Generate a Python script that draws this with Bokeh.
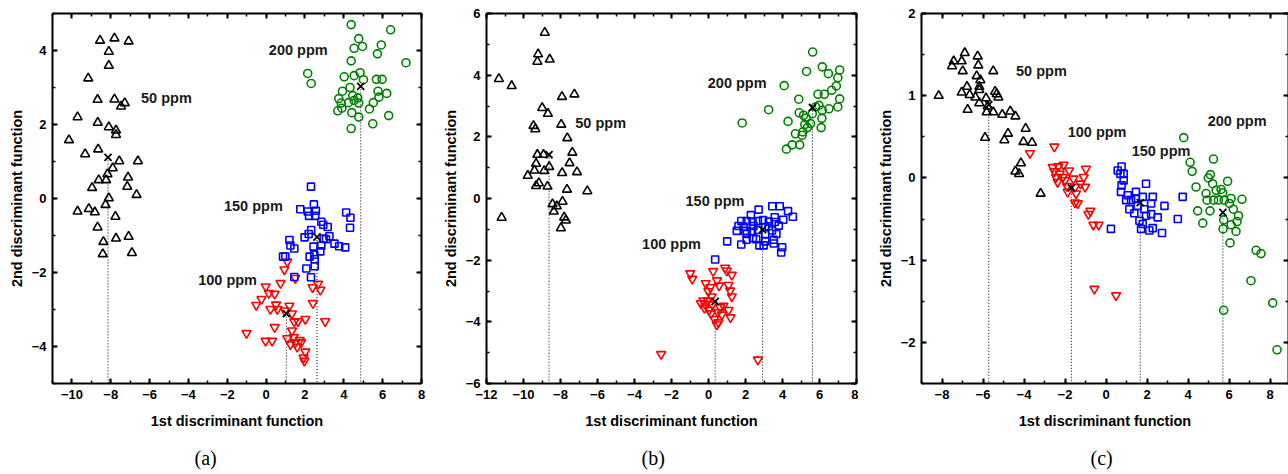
from bokeh.plotting import figure
from bokeh.layouts import row
from bokeh.models import LinearAxis, SingleIntervalTicker, Title, Range1d
from bokeh.core.properties import value
from bokeh.embed import file_html
from bokeh.resources import INLINE

SANS = "Liberation Sans"
SERIF = "Liberation Serif"

GROUPS = ["50 ppm", "100 ppm", "150 ppm", "200 ppm"]
MARKERS = ["triangle", "inverted_triangle", "square", "circle"]
COLORS = ["black", "#ff0000", "#0000ff", "#008000"]
SIZES = [9, 9, 7, 8]

# ---------------- panel (a) ----------------
a50_x = [-8.55, -7.81, -7.08, -8.10, -8.10, -9.16, -8.68, -7.81, -7.28, -7.47, -9.71, -8.67, -8.10, -7.73,
         -7.73, -10.15, -9.32, -8.65, -7.56, -6.60, -7.90, -8.17, -8.62, -8.24, -7.11, -7.15, -8.96, -6.67,
         -8.10, -8.27, -9.71, -9.13, -8.82, -7.76, -8.68, -8.38, -7.73, -7.08, -8.41, -6.91]
a50_y = [4.27, 4.33, 4.25, 3.97, 3.59, 3.25, 2.67, 2.68, 2.58, 2.49, 2.20, 2.05, 1.93, 1.84, 1.72, 1.58,
         1.20, 1.33, 1.01, 1.01, 0.82, 0.66, 0.50, 0.50, 0.57, 0.32, 0.29, 0.10, 0.01, -0.17, -0.35, -0.28,
         -0.37, -0.49, -0.78, -1.17, -1.08, -1.03, -1.50, -1.47]
a100_x = [1.09, 0.94, 0.74, -0.02, 0.14, 0.44, -0.24, -0.51, 0.51, 0.22, 0.58, 1.20, 0.96, 1.33, 1.45, 1.64,
          2.02, 3.04, 2.67, 2.39, 2.79, 2.41, 1.50, 0.44, -1.01, -0.03, 0.31, 1.09, 1.33, 1.42, 1.50, 1.73,
          1.80, 1.60, 2.02, 1.93, 1.97, 1.25]
a100_y = [-1.71, -1.92, -2.29, -2.38, -2.56, -2.58, -2.72, -2.88, -2.87, -2.99, -2.99, -2.90, -3.03, -3.11,
          -3.33, -3.32, -3.26, -3.32, -2.31, -2.40, -2.47, -2.83, -2.15, -3.48, -3.64, -3.85, -3.85, -3.78,
          -3.57, -3.75, -3.89, -3.83, -3.89, -4.01, -4.14, -4.30, -4.39, -3.94]
a150_x = [2.31, 2.46, 1.76, 2.14, 2.56, 2.21, 2.53, 4.12, 4.34, 4.32, 2.84, 3.17, 2.94, 2.32, 2.19, 1.98,
          3.26, 2.96, 3.08, 3.52, 3.76, 4.07, 1.20, 1.25, 1.45, 2.44, 2.84, 2.79, 2.24, 2.48, 2.50, 0.87,
          0.99, 2.07, 2.50, 1.45, 2.31]
a150_y = [0.32, -0.16, -0.29, -0.35, -0.33, -0.47, -0.47, -0.38, -0.52, -0.79, -0.63, -0.77, -0.71, -0.85,
          -0.96, -1.05, -1.02, -1.08, -1.10, -1.22, -1.29, -1.32, -1.12, -1.27, -1.35, -1.30, -1.27, -1.43,
          -1.57, -1.52, -1.64, -1.57, -1.57, -1.89, -1.83, -2.12, -2.13]
a200_x = [4.38, 6.41, 4.77, 4.53, 4.96, 5.93, 5.73, 7.20, 4.38, 2.14, 2.32, 4.02, 4.53, 4.84, 5.01, 5.68,
          5.97, 4.32, 3.93, 5.76, 6.21, 3.74, 4.46, 4.72, 3.86, 4.24, 4.53, 4.77, 3.69, 3.90, 5.52, 5.32,
          5.81, 4.41, 4.77, 6.31, 5.49, 4.38]
a200_y = [4.70, 4.56, 4.32, 4.06, 4.11, 4.15, 3.91, 3.67, 3.72, 3.38, 3.11, 3.29, 3.32, 3.40, 3.21, 3.22,
          3.22, 3.00, 2.90, 2.90, 2.84, 2.70, 2.78, 2.72, 2.58, 2.59, 2.65, 2.58, 2.37, 2.44, 2.59, 2.42,
          2.74, 2.32, 2.20, 2.24, 2.02, 1.89]
a_cent_x = [-8.14, 1.04, 2.62, 4.87]
a_cent_y = [1.11, -3.11, -1.04, 3.03]
a_lab_x = [-6.44, -3.50, -2.17, 0.14]
a_lab_y = [2.72, -2.20, -0.19, 4.02]

# ---------------- panel (b) ----------------
b50_x = [-8.85, -9.21, -9.25, -8.58, -11.33, -10.64, -7.92, -7.25, -8.99, -8.68, -9.46, -9.36, -7.96, -7.63,
         -9.25, -8.92, -7.36, -9.32, -8.61, -7.51, -9.77, -9.41, -8.88, -7.91, -7.11, -9.17, -9.32, -8.70,
         -7.65, -6.55, -8.43, -8.20, -7.89, -8.36, -7.80, -7.71, -7.98, -11.18]
b50_y = [5.38, 4.68, 4.44, 4.51, 3.88, 3.65, 3.30, 3.38, 2.94, 2.75, 2.36, 2.25, 2.40, 1.96, 1.42, 1.42,
         1.49, 1.13, 1.03, 1.15, 0.74, 0.91, 0.90, 0.83, 0.86, 0.50, 0.41, 0.39, 0.29, 0.24, -0.18, -0.25,
         -0.10, -0.42, -0.61, -0.71, -0.96, -0.62]
b100_x = [-0.99, -0.88, 0.25, 0.90, 0.99, 1.26, -0.15, 0.46, 0.57, 0.10, 1.08, -0.01, 1.17, 1.26, 0.17,
          -0.41, -0.19, -0.22, 0.03, 0.63, 1.08, 0.14, 0.50, 0.81, 1.19, 0.32, 0.54, 0.45, -2.56, 2.67,
          -0.28, 0.72, 0.21, -0.04]
b100_y = [-2.43, -2.61, -2.36, -2.25, -2.34, -2.48, -2.75, -2.66, -2.83, -2.88, -2.81, -3.01, -2.99, -3.18,
          -3.18, -3.40, -3.42, -3.55, -3.62, -3.53, -3.62, -3.73, -3.69, -3.48, -3.86, -3.91, -4.02, -4.09,
          -5.05, -5.23, -3.31, -3.77, -3.44, -3.31]
b150_x = [0.36, 2.71, 3.45, 3.85, 4.30, 4.56, 2.29, 1.77, 2.07, 2.38, 2.67, 2.95, 3.26, 3.58, 3.58, 4.04,
          1.62, 1.89, 2.43, 3.26, 3.80, 1.53, 1.98, 2.35, 2.67, 3.07, 3.43, 3.67, 2.07, 2.06, 2.40, 2.58,
          3.07, 3.53, 1.01, 1.77, 2.75, 2.98, 3.53, 3.98, 3.93, 3.07]
b150_y = [-1.98, -0.36, -0.25, -0.25, -0.41, -0.59, -0.54, -0.73, -0.73, -0.75, -0.73, -0.70, -0.75, -0.61,
          -0.76, -0.69, -0.89, -0.91, -0.89, -0.90, -0.88, -1.05, -1.05, -1.07, -1.02, -0.93, -1.04, -1.15,
          -1.15, -1.34, -1.28, -1.32, -1.39, -1.34, -1.39, -1.49, -1.52, -1.52, -1.46, -1.58, -1.75, -1.15]
b200_x = [5.63, 6.15, 5.30, 6.48, 7.09, 6.99, 4.09, 6.91, 6.66, 5.92, 6.26, 4.88, 7.09, 6.99, 3.25, 4.90,
          5.14, 5.79, 5.97, 6.15, 6.51, 5.61, 5.28, 1.82, 4.30, 5.21, 5.52, 6.13, 6.09, 5.35, 5.10, 5.06,
          4.70, 4.52, 4.93, 4.21]
b200_y = [4.75, 4.27, 4.12, 4.05, 4.17, 3.92, 3.66, 3.65, 3.51, 3.38, 3.38, 3.22, 3.23, 2.97, 2.88, 2.78,
          2.70, 2.97, 3.02, 2.86, 2.91, 2.75, 2.61, 2.45, 2.50, 2.40, 2.43, 2.60, 2.30, 2.30, 2.16, 2.05,
          2.10, 1.74, 1.74, 1.60]
b_cent_x = [-8.62, 0.36, 2.92, 5.62]
b_cent_y = [1.42, -3.34, -1.01, 2.95]
b_lab_x = [-7.20, -3.59, -1.24, -0.04]
b_lab_y = [2.46, -1.47, -0.09, 3.76]

# ---------------- panel (c) ----------------
c50_x = [-6.89, -6.26, -7.43, -7.04, -7.51, -6.23, -6.99, -5.50, -6.31, -6.13, -6.78, -6.18, -6.18, -7.04,
         -5.41, -8.16, -6.65, -6.37, -5.85, -5.25, -6.18, -6.75, -5.77, -5.82, -5.50, -5.06, -4.67, -4.42,
         -5.90, -3.92, -4.78, -4.96, -4.03, -3.61, -4.15, -4.42, -4.24, -3.19, -5.33]
c50_y = [1.52, 1.48, 1.42, 1.42, 1.36, 1.37, 1.30, 1.30, 1.24, 1.19, 1.11, 1.11, 1.07, 1.04, 1.05, 1.00,
         1.01, 0.98, 0.97, 0.98, 0.91, 0.83, 0.87, 0.80, 0.80, 0.77, 0.81, 0.75, 0.49, 0.60, 0.54, 0.46,
         0.44, 0.43, 0.18, 0.08, 0.05, -0.19, 1.02]
c100_x = [-2.52, -3.71, -2.60, -2.33, -2.07, -1.80, -0.98, -2.52, -2.26, -2.44, -2.11, -1.59, -1.09, -2.36,
          -1.90, -1.51, -1.25, -1.02, -1.46, -1.38, -1.51, -0.76, -0.86, -0.62, -0.36, -0.57, 0.49, -1.87,
          -2.00]
c100_y = [0.38, 0.30, 0.13, 0.14, 0.16, 0.09, 0.11, 0.08, 0.05, 0.01, 0.01, -0.01, 0.01, -0.05, -0.10,
          -0.11, -0.07, -0.11, -0.19, -0.31, -0.30, -0.40, -0.44, -0.57, -0.57, -1.35, -1.43, -0.17, -0.03]
c150_x = [0.76, 0.57, 0.70, 0.86, 0.86, 0.76, 0.73, 1.06, 1.46, 0.98, 1.22, 1.46, 1.79, 1.95, 2.28, 2.20,
          1.14, 1.38, 1.87, 1.95, 2.20, 2.52, 2.85, 3.74, 3.50, 1.63, 1.79, 1.71, 2.11, 2.28, 2.73, 0.24,
          1.54]
c150_y = [0.14, 0.09, 0.05, 0.05, -0.03, -0.09, -0.17, -0.21, -0.17, -0.27, -0.27, -0.25, -0.23, -0.07,
          -0.23, -0.31, -0.38, -0.43, -0.38, -0.46, -0.44, -0.48, -0.34, -0.23, -0.50, -0.52, -0.56, -0.62,
          -0.64, -0.61, -0.67, -0.62, -0.34]
c200_x = [3.79, 4.10, 4.20, 5.24, 4.39, 5.09, 4.99, 5.20, 5.93, 5.37, 5.61, 4.88, 4.93, 5.25, 5.48, 5.69,
          5.77, 6.10, 6.02, 6.63, 4.47, 5.07, 5.74, 6.21, 6.46, 6.39, 4.72, 6.10, 5.71, 6.34, 6.05, 7.32,
          7.56, 7.07, 5.74, 8.13, 8.34]
c200_y = [0.49, 0.19, 0.08, 0.23, -0.11, 0.04, 0.00, -0.07, -0.04, -0.15, -0.14, -0.19, -0.27, -0.27,
          -0.27, -0.18, -0.27, -0.25, -0.31, -0.26, -0.40, -0.40, -0.51, -0.38, -0.46, -0.53, -0.55, -0.57,
          -0.62, -0.65, -0.79, -0.88, -0.92, -1.25, -1.61, -1.52, -2.09]
c_cent_x = [-5.72, -1.69, 1.67, 5.70]
c_cent_y = [0.89, -0.12, -0.30, -0.42]
c_lab_x = [-4.39, -1.87, 1.25, 4.96]
c_lab_y = [1.30, 0.56, 0.33, 0.69]

X_TITLE = "1st discriminant function"
Y_TITLE = "2nd discriminant function"


def style_axis(ax, step, show_labels=True):
    ax.ticker = SingleIntervalTicker(interval=step, num_minor_ticks=2)
    ax.axis_line_width = 2
    ax.axis_line_color = "black"
    ax.major_tick_in = 5
    ax.major_tick_out = 0
    ax.minor_tick_in = 3
    ax.minor_tick_out = 0
    ax.major_tick_line_width = 2
    ax.minor_tick_line_width = 1.5
    ax.major_label_text_font = SANS
    ax.major_label_text_font_style = "bold"
    if show_labels:
        ax.major_label_text_color = "black"
        ax.major_label_text_font_size = "13px"
        ax.major_label_standoff = 6
    else:
        # mirrored frame axes: ticks only, no numbers
        ax.major_label_text_color = None
        ax.major_label_text_font_size = "0px"
        ax.major_label_standoff = 0


def make_panel(xr, yr, xstep, ystep, series, cx, cy, lx, ly, letter,
               border_left, frame_w, border_right, letter_offset):
    p = figure(x_range=Range1d(*xr), y_range=Range1d(*yr),
               frame_width=frame_w, frame_height=370,
               min_border_left=border_left, min_border_right=border_right,
               min_border_top=13, min_border_bottom=91,
               output_backend="svg", toolbar_location=None, title=None,
               background_fill_color="white", border_fill_color="white",
               outline_line_color=None)
    p.xgrid.visible = False
    p.ygrid.visible = False

    xa, ya = p.xaxis[0], p.yaxis[0]
    style_axis(xa, xstep)
    style_axis(ya, ystep)
    for ax in (xa, ya):
        ax.axis_label_text_font = SANS
        ax.axis_label_text_font_style = "bold"
        ax.axis_label_text_font_size = "14.5px"
        ax.axis_label_text_color = "black"
    xa.axis_label = X_TITLE
    ya.axis_label = Y_TITLE
    xa.axis_label_standoff = 11
    ya.axis_label_standoff = 4

    top = LinearAxis()
    style_axis(top, xstep, show_labels=False)
    p.add_layout(top, "above")
    right = LinearAxis()
    style_axis(right, ystep, show_labels=False)
    p.add_layout(right, "right")

    # dotted drop lines from each group centroid to the bottom of the frame
    p.segment(x0=cx, y0=cy, x1=cx, y1=[yr[0]] * len(cx),
              line_color="black", line_width=1, line_dash="1 2")

    for (xs, ys), marker, color, size in zip(series, MARKERS, COLORS, SIZES):
        p.scatter(xs, ys, marker=marker, size=size, fill_color=None,
                  line_color=color, line_width=1.6)

    p.scatter(cx, cy, marker="x", size=10, line_color="black", line_width=1.8)

    p.text(x=lx, y=ly, text=GROUPS, text_font=value(SANS), text_font_style="bold",
           text_font_size="14.5px", text_color="#1a1a1a",
           text_align="left", text_baseline="middle")

    cap = Title(text=letter, align="left", offset=letter_offset,
                text_font=SERIF, text_font_style="normal", text_font_size="20px",
                text_color="black", standoff=27)
    p.add_layout(cap, "below")
    return p


pa = make_panel((-11, 8), (-5, 5), 2, 2,
                [(a50_x, a50_y), (a100_x, a100_y), (a150_x, a150_y), (a200_x, a200_y)],
                a_cent_x, a_cent_y, a_lab_x, a_lab_y, "(a)", 52, 369, 9, 142)
pb = make_panel((-12, 8), (-6, 6), 2, 2,
                [(b50_x, b50_y), (b100_x, b100_y), (b150_x, b150_y), (b200_x, b200_y)],
                b_cent_x, b_cent_y, b_lab_x, b_lab_y, "(b)", 56, 370, 2, 155)
pc = make_panel((-9, 8.9), (-2.5, 2), 2, 1,
                [(c50_x, c50_y), (c100_x, c100_y), (c150_x, c150_y), (c200_x, c200_y)],
                c_cent_x, c_cent_y, c_lab_x, c_lab_y, "(c)", 63, 367, 0, 169)

layout = row(pa, pb, pc, spacing=0)
open("out.html", "w").write(file_html(layout, INLINE))
